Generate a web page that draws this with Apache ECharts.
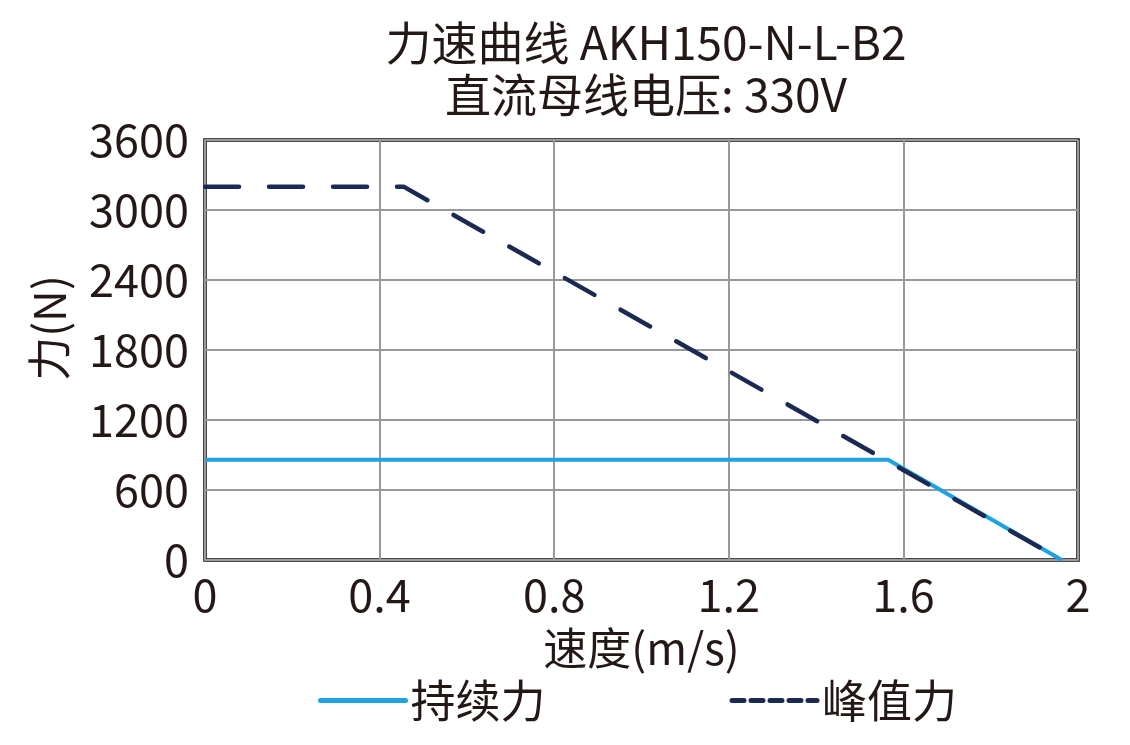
<!DOCTYPE html>
<html>
<head>
<meta charset="utf-8">
<style>
  html, body, #main { margin: 0; width: 1130px; height: 745px; background: #fff; }
</style>
<script src="https://cdn.jsdelivr.net/npm/echarts@6/dist/echarts.min.js"></script>
</head>
<body>
<div id="main"></div>
<script>
// 读图估计的数据
const speedTicks = [0, 0.4, 0.8, 1.2, 1.6, 2]
const forceTicks = [0, 600, 1200, 1800, 2400, 3000, 3600]

const contSpeed = [0, 1.565, 1.963]
const contForce = [860, 860, 0]

const peakSpeed = [0, 0.455, 1.963]
const peakForce = [3200, 3200, 0]

const font = '"Noto Sans CJK SC", "Noto Sans", sans-serif'
const txt = '#231815'
const blue = '#1fa3e0'
const navy = '#1a2a52'

const chart = echarts.init(document.getElementById('main'), null, { renderer: 'canvas' })

chart.setOption({
  animation: false,
  title: {
    text: '力速曲线 AKH150-N-L-B2\n直流母线电压: 330V',
    left: 641, top: 12, textAlign: 'center',
    textStyle: { fontFamily: font, fontSize: 46, fontWeight: 'normal', color: txt, lineHeight: 52 },
  },
  grid: {
    left: 205, right: 52, top: 140, bottom: 185,
    show: true, borderColor: '#111', borderWidth: 3.5,
  },
  legend: {
    bottom: 17, left: 313,
    itemWidth: 85, itemHeight: 14, itemGap: 184,
    itemStyle: { opacity: 0 },
    textStyle: { fontFamily: font, fontSize: 45, color: txt },
    data: [
      { name: '持续力', lineStyle: { color: blue, width: 5, cap: 'round' } },
      { name: '峰值力', lineStyle: { color: navy, width: 5, type: [12, 7], cap: 'round' } },
    ],
  },
  xAxis: {
    type: 'value', min: 0, max: 2, interval: 0.4,
    name: '速度(m/s)', nameLocation: 'middle', nameGap: 66,
    nameTextStyle: { fontFamily: font, fontSize: 44, color: txt, verticalAlign: 'top' },
    axisLine: { show: true, lineStyle: { color: '#999', width: 2 } },
    axisTick: { show: false },
    axisLabel: { fontFamily: font, fontSize: 45, color: txt, margin: 12, formatter: v => String(v) },
    splitLine: { lineStyle: { color: '#999', width: 2 } },
  },
  yAxis: {
    type: 'value', min: 0, max: 3600, interval: 600,
    name: '力(N)', nameLocation: 'middle', nameGap: 134, nameRotate: 90,
    nameTextStyle: { fontFamily: font, fontSize: 44, color: txt, padding: [0, 0, 0, 44] },
    axisLine: { show: true, lineStyle: { color: '#999', width: 2 } },
    axisTick: { show: false },
    axisLabel: { fontFamily: font, fontSize: 45, color: txt, margin: 16, formatter: v => String(v) },
    splitLine: { lineStyle: { color: '#999', width: 2 } },
  },
  series: [
    {
      name: '持续力', type: 'line', symbol: 'none',
      data: contSpeed.map((v, i) => [v, contForce[i]]),
      lineStyle: { color: blue, width: 4 },
      itemStyle: { color: blue },
      z: 2,
    },
    {
      name: '峰值力', type: 'line', symbol: 'none',
      data: peakSpeed.map((v, i) => [v, peakForce[i]]),
      lineStyle: { color: navy, width: 4.5, type: [34, 30], cap: 'round' },
      itemStyle: { color: navy },
      z: 3,
    },
  ],
})
</script>
</body>
</html>
